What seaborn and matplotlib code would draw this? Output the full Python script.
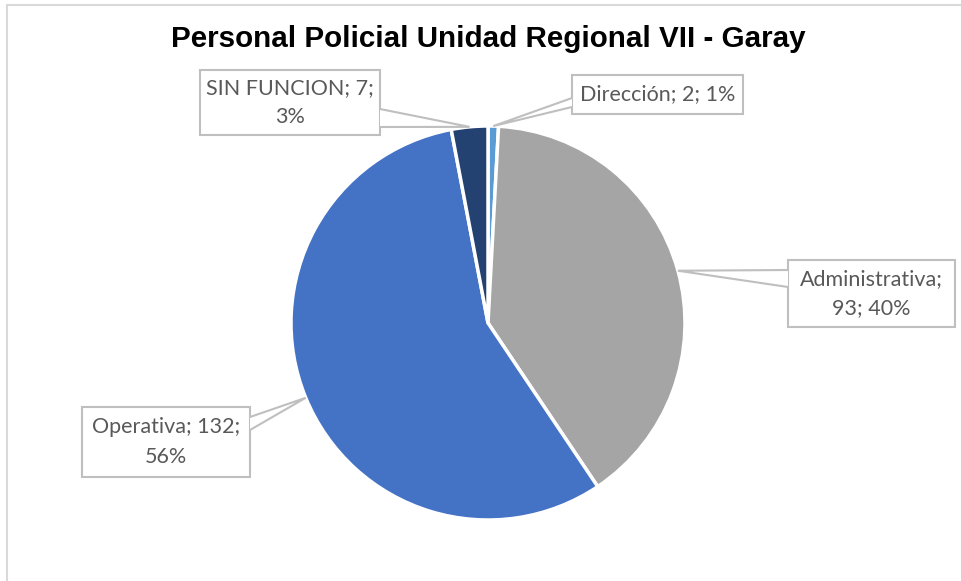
import matplotlib.pyplot as plt
import numpy as np
import seaborn as sns
from matplotlib.patches import Rectangle, Polygon

W, H = 962, 581

categories = ["Dirección", "Administrativa", "Operativa", "SIN FUNCION"]
values = [2, 93, 132, 7]
slice_colors = ["#5B9BD5", "#A5A5A5", "#4472C4", "#234171"]
title = "Personal Policial Unidad Regional VII - Garay"

# how many "; " pieces go on the first line of each label (None = single line)
label_breaks = [None, 1, 2, 2]
# callout boxes in pixel coords (left, top, right, bottom) and pointer base points
boxes = [(572, 75, 743, 114), (788, 260, 955, 327), (82, 407, 250, 477), (200, 70, 380, 135)]
bases = [((572, 98), (572, 107)), ((788, 270), (788, 287)),
         ((250, 417), (250, 430)), ((380, 109), (380, 127))]


def px(x, y):
    """pixel coords (origin top-left) -> data coords."""
    return (x, H - y)


sns.set_theme(style="white")
plt.rcParams['font.family'] = ['Lato', 'DejaVu Sans']

fig = plt.figure(figsize=(W / 100, H / 100), dpi=100)
ax = fig.add_axes([0, 0, 1, 1])

cx, cy = px(488, 323)
radius = 197
wedges, _ = ax.pie(values, colors=sns.color_palette(slice_colors), startangle=90,
                   counterclock=False, center=(cx, cy), radius=radius,
                   wedgeprops=dict(edgecolor='white', linewidth=2.5))
ax.set_xlim(0, W)
ax.set_ylim(0, H)
ax.set_aspect('equal')
ax.axis('off')

# chart area border
ax.add_patch(Rectangle(px(7, H + 20), W + 20, H + 15, fill=False,
                       edgecolor='#D9D9D9', linewidth=1.5, zorder=1))

total = sum(values)
edge = '#BFBFBF'
for i, w in enumerate(wedges):
    name, v = categories[i], values[i]
    pct = round(v / total * 100)
    parts = [name, str(v), f"{pct}%"]
    k = label_breaks[i]
    if k is None:
        txt = "; ".join(parts)
    else:
        txt = "; ".join(parts[:k]) + ";\n" + "; ".join(parts[k:])

    mid = np.deg2rad((w.theta1 + w.theta2) / 2)
    tip = (cx + radius * np.cos(mid), cy + radius * np.sin(mid))

    x0, y0, x1, y1 = boxes[i]
    ax.add_patch(Rectangle(px(x0, y1), x1 - x0, y1 - y0, facecolor='white',
                           edgecolor=edge, linewidth=1.5, zorder=4))
    b1, b2 = px(*bases[i][0]), px(*bases[i][1])
    ax.add_patch(Polygon([b1, tip, b2], closed=True, facecolor='white',
                         edgecolor='none', zorder=5))
    ax.plot([b1[0], tip[0], b2[0]], [b1[1], tip[1], b2[1]], color=edge,
            linewidth=1.5, zorder=6, solid_joinstyle='miter')
    tx, ty = px((x0 + x1) / 2, (y0 + y1) / 2)
    ax.text(tx, ty, txt, ha='center', va='center', fontsize=15.5,
            color='#595959', linespacing=1.6, zorder=7)

ax.text(*px(488, 39), title, ha='center', va='center', fontsize=21.3,
        fontweight='bold', color='black',
        family=['Liberation Sans Narrow', 'Liberation Sans'])

plt.savefig('out.png', dpi=100)
plt.close()
